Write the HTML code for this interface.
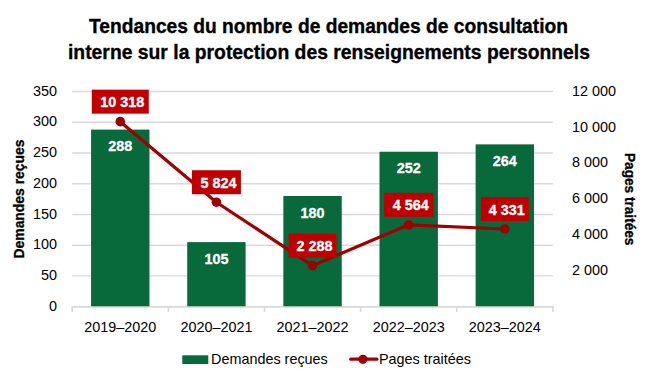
<!DOCTYPE html>
<html><head><meta charset="utf-8"><style>
html,body{margin:0;padding:0;width:656px;height:377px;overflow:hidden;background:#fff;font-family:"Liberation Sans", sans-serif;}
</style></head><body>
<svg width="656" height="377" viewBox="0 0 656 377" style="position:absolute;left:0;top:0">
<rect width="656" height="377" fill="#fff"/>
<text x="328.5" y="32.5" text-anchor="middle" font-family='"Liberation Sans", sans-serif' font-weight="bold" font-size="20.2" fill="#000" stroke="#000" stroke-width="0.35" textLength="479" lengthAdjust="spacingAndGlyphs">Tendances du nombre de demandes de consultation</text>
<text x="329" y="58.8" text-anchor="middle" font-family='"Liberation Sans", sans-serif' font-weight="bold" font-size="20.2" fill="#000" stroke="#000" stroke-width="0.35" textLength="522" lengthAdjust="spacingAndGlyphs">interne sur la protection des renseignements personnels</text>
<line x1="72.2" y1="275.91" x2="552.9" y2="275.91" stroke="#D9D9D9" stroke-width="1.4"/>
<line x1="72.2" y1="245.18" x2="552.9" y2="245.18" stroke="#D9D9D9" stroke-width="1.4"/>
<line x1="72.2" y1="214.44" x2="552.9" y2="214.44" stroke="#D9D9D9" stroke-width="1.4"/>
<line x1="72.2" y1="183.71" x2="552.9" y2="183.71" stroke="#D9D9D9" stroke-width="1.4"/>
<line x1="72.2" y1="152.97" x2="552.9" y2="152.97" stroke="#D9D9D9" stroke-width="1.4"/>
<line x1="72.2" y1="122.24" x2="552.9" y2="122.24" stroke="#D9D9D9" stroke-width="1.4"/>
<line x1="72.2" y1="91.50" x2="552.9" y2="91.50" stroke="#D9D9D9" stroke-width="1.4"/>
<line x1="71.45" y1="306.84999999999997" x2="553.65" y2="306.84999999999997" stroke="#D9D9D9" stroke-width="1.6"/>
<line x1="72.20" y1="306.65" x2="72.20" y2="312" stroke="#D9D9D9" stroke-width="1.6"/>
<line x1="168.34" y1="306.65" x2="168.34" y2="312" stroke="#D9D9D9" stroke-width="1.6"/>
<line x1="264.48" y1="306.65" x2="264.48" y2="312" stroke="#D9D9D9" stroke-width="1.6"/>
<line x1="360.62" y1="306.65" x2="360.62" y2="312" stroke="#D9D9D9" stroke-width="1.6"/>
<line x1="456.76" y1="306.65" x2="456.76" y2="312" stroke="#D9D9D9" stroke-width="1.6"/>
<line x1="552.90" y1="306.65" x2="552.90" y2="312" stroke="#D9D9D9" stroke-width="1.6"/>
<text x="57" y="310.75" text-anchor="end" font-family='"Liberation Sans", sans-serif' font-size="14.4" fill="#000">0</text>
<text x="57" y="280.01" text-anchor="end" font-family='"Liberation Sans", sans-serif' font-size="14.4" fill="#000">50</text>
<text x="57" y="249.28" text-anchor="end" font-family='"Liberation Sans", sans-serif' font-size="14.4" fill="#000">100</text>
<text x="57" y="218.54" text-anchor="end" font-family='"Liberation Sans", sans-serif' font-size="14.4" fill="#000">150</text>
<text x="57" y="187.81" text-anchor="end" font-family='"Liberation Sans", sans-serif' font-size="14.4" fill="#000">200</text>
<text x="57" y="157.07" text-anchor="end" font-family='"Liberation Sans", sans-serif' font-size="14.4" fill="#000">250</text>
<text x="57" y="126.34" text-anchor="end" font-family='"Liberation Sans", sans-serif' font-size="14.4" fill="#000">300</text>
<text x="57" y="95.60" text-anchor="end" font-family='"Liberation Sans", sans-serif' font-size="14.4" fill="#000">350</text>
<text x="572" y="274.99" font-family='"Liberation Sans", sans-serif' font-size="14.4" fill="#000">2 000</text>
<text x="572" y="239.13" font-family='"Liberation Sans", sans-serif' font-size="14.4" fill="#000">4 000</text>
<text x="572" y="203.27" font-family='"Liberation Sans", sans-serif' font-size="14.4" fill="#000">6 000</text>
<text x="572" y="167.42" font-family='"Liberation Sans", sans-serif' font-size="14.4" fill="#000">8 000</text>
<text x="572" y="131.56" font-family='"Liberation Sans", sans-serif' font-size="14.4" fill="#000">10 000</text>
<text x="572" y="95.70" font-family='"Liberation Sans", sans-serif' font-size="14.4" fill="#000">12 000</text>
<text x="120.27" y="332" text-anchor="middle" font-family='"Liberation Sans", sans-serif' font-size="14.4" fill="#000">2019–2020</text>
<text x="216.41" y="332" text-anchor="middle" font-family='"Liberation Sans", sans-serif' font-size="14.4" fill="#000">2020–2021</text>
<text x="312.55" y="332" text-anchor="middle" font-family='"Liberation Sans", sans-serif' font-size="14.4" fill="#000">2021–2022</text>
<text x="408.69" y="332" text-anchor="middle" font-family='"Liberation Sans", sans-serif' font-size="14.4" fill="#000">2022–2023</text>
<text x="504.83" y="332" text-anchor="middle" font-family='"Liberation Sans", sans-serif' font-size="14.4" fill="#000">2023–2024</text>
<rect x="91.07" y="129.61" width="58.4" height="176.64" fill="#08693A"/>
<text x="120.27" y="151.31" text-anchor="middle" font-family='"Liberation Sans", sans-serif' font-weight="bold" font-size="14.4" fill="#fff" stroke="#fff" stroke-width="0.3">288</text>
<rect x="187.21" y="242.10" width="58.4" height="64.15" fill="#08693A"/>
<text x="216.41" y="263.81" text-anchor="middle" font-family='"Liberation Sans", sans-serif' font-weight="bold" font-size="14.4" fill="#fff" stroke="#fff" stroke-width="0.3">105</text>
<rect x="283.35" y="196.00" width="58.4" height="110.25" fill="#08693A"/>
<text x="312.55" y="217.70" text-anchor="middle" font-family='"Liberation Sans", sans-serif' font-weight="bold" font-size="14.4" fill="#fff" stroke="#fff" stroke-width="0.3">180</text>
<rect x="379.49" y="151.74" width="58.4" height="154.51" fill="#08693A"/>
<text x="408.69" y="173.44" text-anchor="middle" font-family='"Liberation Sans", sans-serif' font-weight="bold" font-size="14.4" fill="#fff" stroke="#fff" stroke-width="0.3">252</text>
<rect x="475.63" y="144.37" width="58.4" height="161.88" fill="#08693A"/>
<text x="504.83" y="166.07" text-anchor="middle" font-family='"Liberation Sans", sans-serif' font-weight="bold" font-size="14.4" fill="#fff" stroke="#fff" stroke-width="0.3">264</text>
<polyline points="120.27,121.66 216.41,202.23 312.55,265.63 408.69,224.82 504.83,229.00" fill="none" stroke="#A00000" stroke-width="3.2" stroke-linejoin="round"/>
<circle cx="120.27" cy="121.66" r="4.8" fill="#A00000"/>
<circle cx="216.41" cy="202.23" r="4.8" fill="#A00000"/>
<circle cx="312.55" cy="265.63" r="4.8" fill="#A00000"/>
<circle cx="408.69" cy="224.82" r="4.8" fill="#A00000"/>
<circle cx="504.83" cy="229.00" r="4.8" fill="#A00000"/>
<rect x="91.77" y="89.66" width="57" height="24" fill="#C00000"/>
<text x="122.27" y="107.16" text-anchor="middle" font-family='"Liberation Sans", sans-serif' font-weight="bold" font-size="14.4" fill="#fff" stroke="#fff" stroke-width="0.3">10 318</text>
<rect x="191.91" y="170.23" width="49" height="24" fill="#C00000"/>
<text x="218.41" y="187.73" text-anchor="middle" font-family='"Liberation Sans", sans-serif' font-weight="bold" font-size="14.4" fill="#fff" stroke="#fff" stroke-width="0.3">5 824</text>
<rect x="288.55" y="233.63" width="48" height="24" fill="#C00000"/>
<text x="314.55" y="251.13" text-anchor="middle" font-family='"Liberation Sans", sans-serif' font-weight="bold" font-size="14.4" fill="#fff" stroke="#fff" stroke-width="0.3">2 288</text>
<rect x="384.19" y="192.82" width="49" height="24" fill="#C00000"/>
<text x="410.69" y="210.32" text-anchor="middle" font-family='"Liberation Sans", sans-serif' font-weight="bold" font-size="14.4" fill="#fff" stroke="#fff" stroke-width="0.3">4 564</text>
<rect x="480.83" y="197.00" width="48" height="24" fill="#C00000"/>
<text x="506.83" y="214.50" text-anchor="middle" font-family='"Liberation Sans", sans-serif' font-weight="bold" font-size="14.4" fill="#fff" stroke="#fff" stroke-width="0.3">4 331</text>
<text transform="translate(24.2,199) rotate(-90)" text-anchor="middle" font-family='"Liberation Sans", sans-serif' font-weight="bold" font-size="14.4" fill="#000" stroke="#000" stroke-width="0.3" textLength="119" lengthAdjust="spacingAndGlyphs">Demandes reçues</text>
<text transform="translate(624.9,199.2) rotate(90)" text-anchor="middle" font-family='"Liberation Sans", sans-serif' font-weight="bold" font-size="14.4" fill="#000" stroke="#000" stroke-width="0.3" textLength="92.5" lengthAdjust="spacingAndGlyphs">Pages traitées</text>
<rect x="182.3" y="355.3" width="26" height="8.7" fill="#08693A"/>
<text x="211" y="364" font-family='"Liberation Sans", sans-serif' font-size="14.4" fill="#000">Demandes reçues</text>
<line x1="350.8" y1="359.2" x2="376.8" y2="359.2" stroke="#A00000" stroke-width="3.3" stroke-linecap="round"/>
<circle cx="362.9" cy="359.3" r="4.6" fill="#A00000"/>
<text x="379" y="364" font-family='"Liberation Sans", sans-serif' font-size="14.4" fill="#000">Pages traitées</text>
</svg>
</body></html>
